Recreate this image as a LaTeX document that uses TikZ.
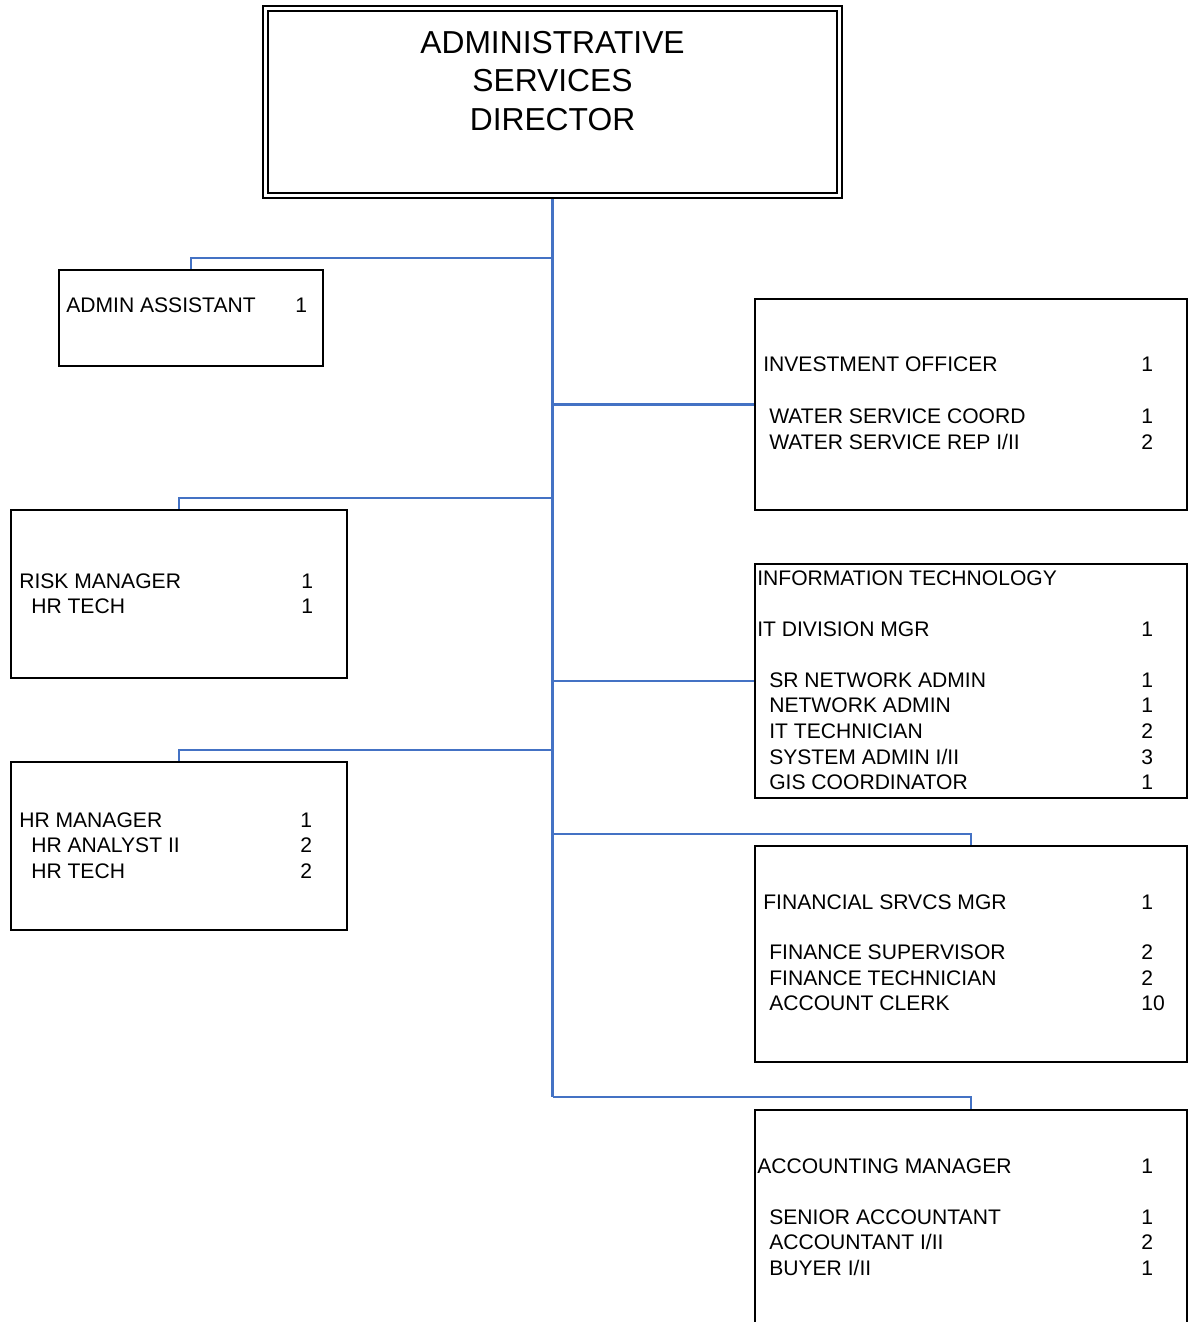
\documentclass[tikz,border=0pt]{standalone}
\usepackage{fontspec}
\setmainfont{Liberation Sans}
\usetikzlibrary{fit}
\definecolor{linkblue}{RGB}{68,114,196}
\tikzset{box/.style={draw, line width=1.4pt, inner sep=0pt},
  link/.style={linkblue, line width=1.5pt},
  role/.style={anchor=base west, inner sep=0pt, font=\fontsize{15}{18}\selectfont}}

\begin{document}
\begin{tikzpicture}[x=0.025cm, y=-0.025cm]
  \useasboundingbox (0,0) rectangle (1190,1322);
  \node[box, double, line width=1.1pt, double distance=2.4pt,
    fit={(265.5,8.5) (839.5,195.5)}] (dir) {};
  \node[anchor=north, inner sep=0pt, align=center,
    font=\fontsize{22.6}{27.3}\selectfont] (dirtxt) at (552.5,31)
    {ADMINISTRATIVE\\SERVICES\\DIRECTOR};
  % boxes
  \node[box, fit={(59,270) (323,366)}] (admin) {};
  \node[box, fit={(755,299) (1187,510)}] (invest) {};
  \node[box, fit={(11,510) (347,678)}] (risk) {};
  \node[box, fit={(755,564) (1187,798)}] (itech) {};
  \node[box, fit={(11,762) (347,930)}] (hr) {};
  \node[box, fit={(755,846) (1187,1062)}] (fin) {};
  \node[box, fit={(755,1110) (1187,1360)}] (acct) {};
  % connectors
  \coordinate (trunkend) at (dir.south |- 0,1097);
  \draw[link, shorten <=2pt] (dir.south) -- (trunkend);
  \draw[link] (dir.south |- 0,258) -| (admin.north);
  \draw[link] (dir.south |- invest.west) -- (invest.west);
  \draw[link] (dir.south |- 0,498) -| (risk.north);
  \draw[link] (dir.south |- itech.west) -- (itech.west);
  \draw[link] (dir.south |- 0,750) -| (hr.north);
  \draw[link] (dir.south |- 0,834) -| (fin.north);
  \draw[link] (trunkend) -| (acct.north);
  % texts
  \node[role] (ithead) at (757,585) {INFORMATION TECHNOLOGY};
  \foreach \x/\y/\t/\n/\nx in {66/312/{ADMIN ASSISTANT}/1/295,
      763/371/{INVESTMENT OFFICER}/1/1141,
      769/423/{WATER SERVICE COORD}/1/1141,
      769/449/{WATER SERVICE REP I/II}/2/1141,
      19/588/{RISK MANAGER}/1/301,
      31/613/{HR TECH}/1/301,
      757/636/{IT DIVISION MGR}/1/1141,
      769/687/{SR NETWORK ADMIN}/1/1141,
      769/712/{NETWORK ADMIN}/1/1141,
      769/738/{IT TECHNICIAN}/2/1141,
      769/764/{SYSTEM ADMIN I/II}/3/1141,
      769/789/{GIS COORDINATOR}/1/1141,
      19/827/{HR MANAGER}/1/300,
      31/852/{HR ANALYST II}/2/300,
      31/878/{HR TECH}/2/300,
      763/909/{FINANCIAL SRVCS MGR}/1/1141,
      769/959/{FINANCE SUPERVISOR}/2/1141,
      769/985/{FINANCE TECHNICIAN}/2/1141,
      769/1010/{ACCOUNT CLERK}/10/1141,
      757/1173/{ACCOUNTING MANAGER}/1/1141,
      769/1224/{SENIOR ACCOUNTANT}/1/1141,
      769/1249/{ACCOUNTANT I/II}/2/1141,
      769/1275/{BUYER I/II}/1/1141}{
    \node[role] (t\y) at (\x,\y) {\t};
    \node[role] (n\y) at (\nx,\y) {\n};
  }
\end{tikzpicture}
\end{document}
